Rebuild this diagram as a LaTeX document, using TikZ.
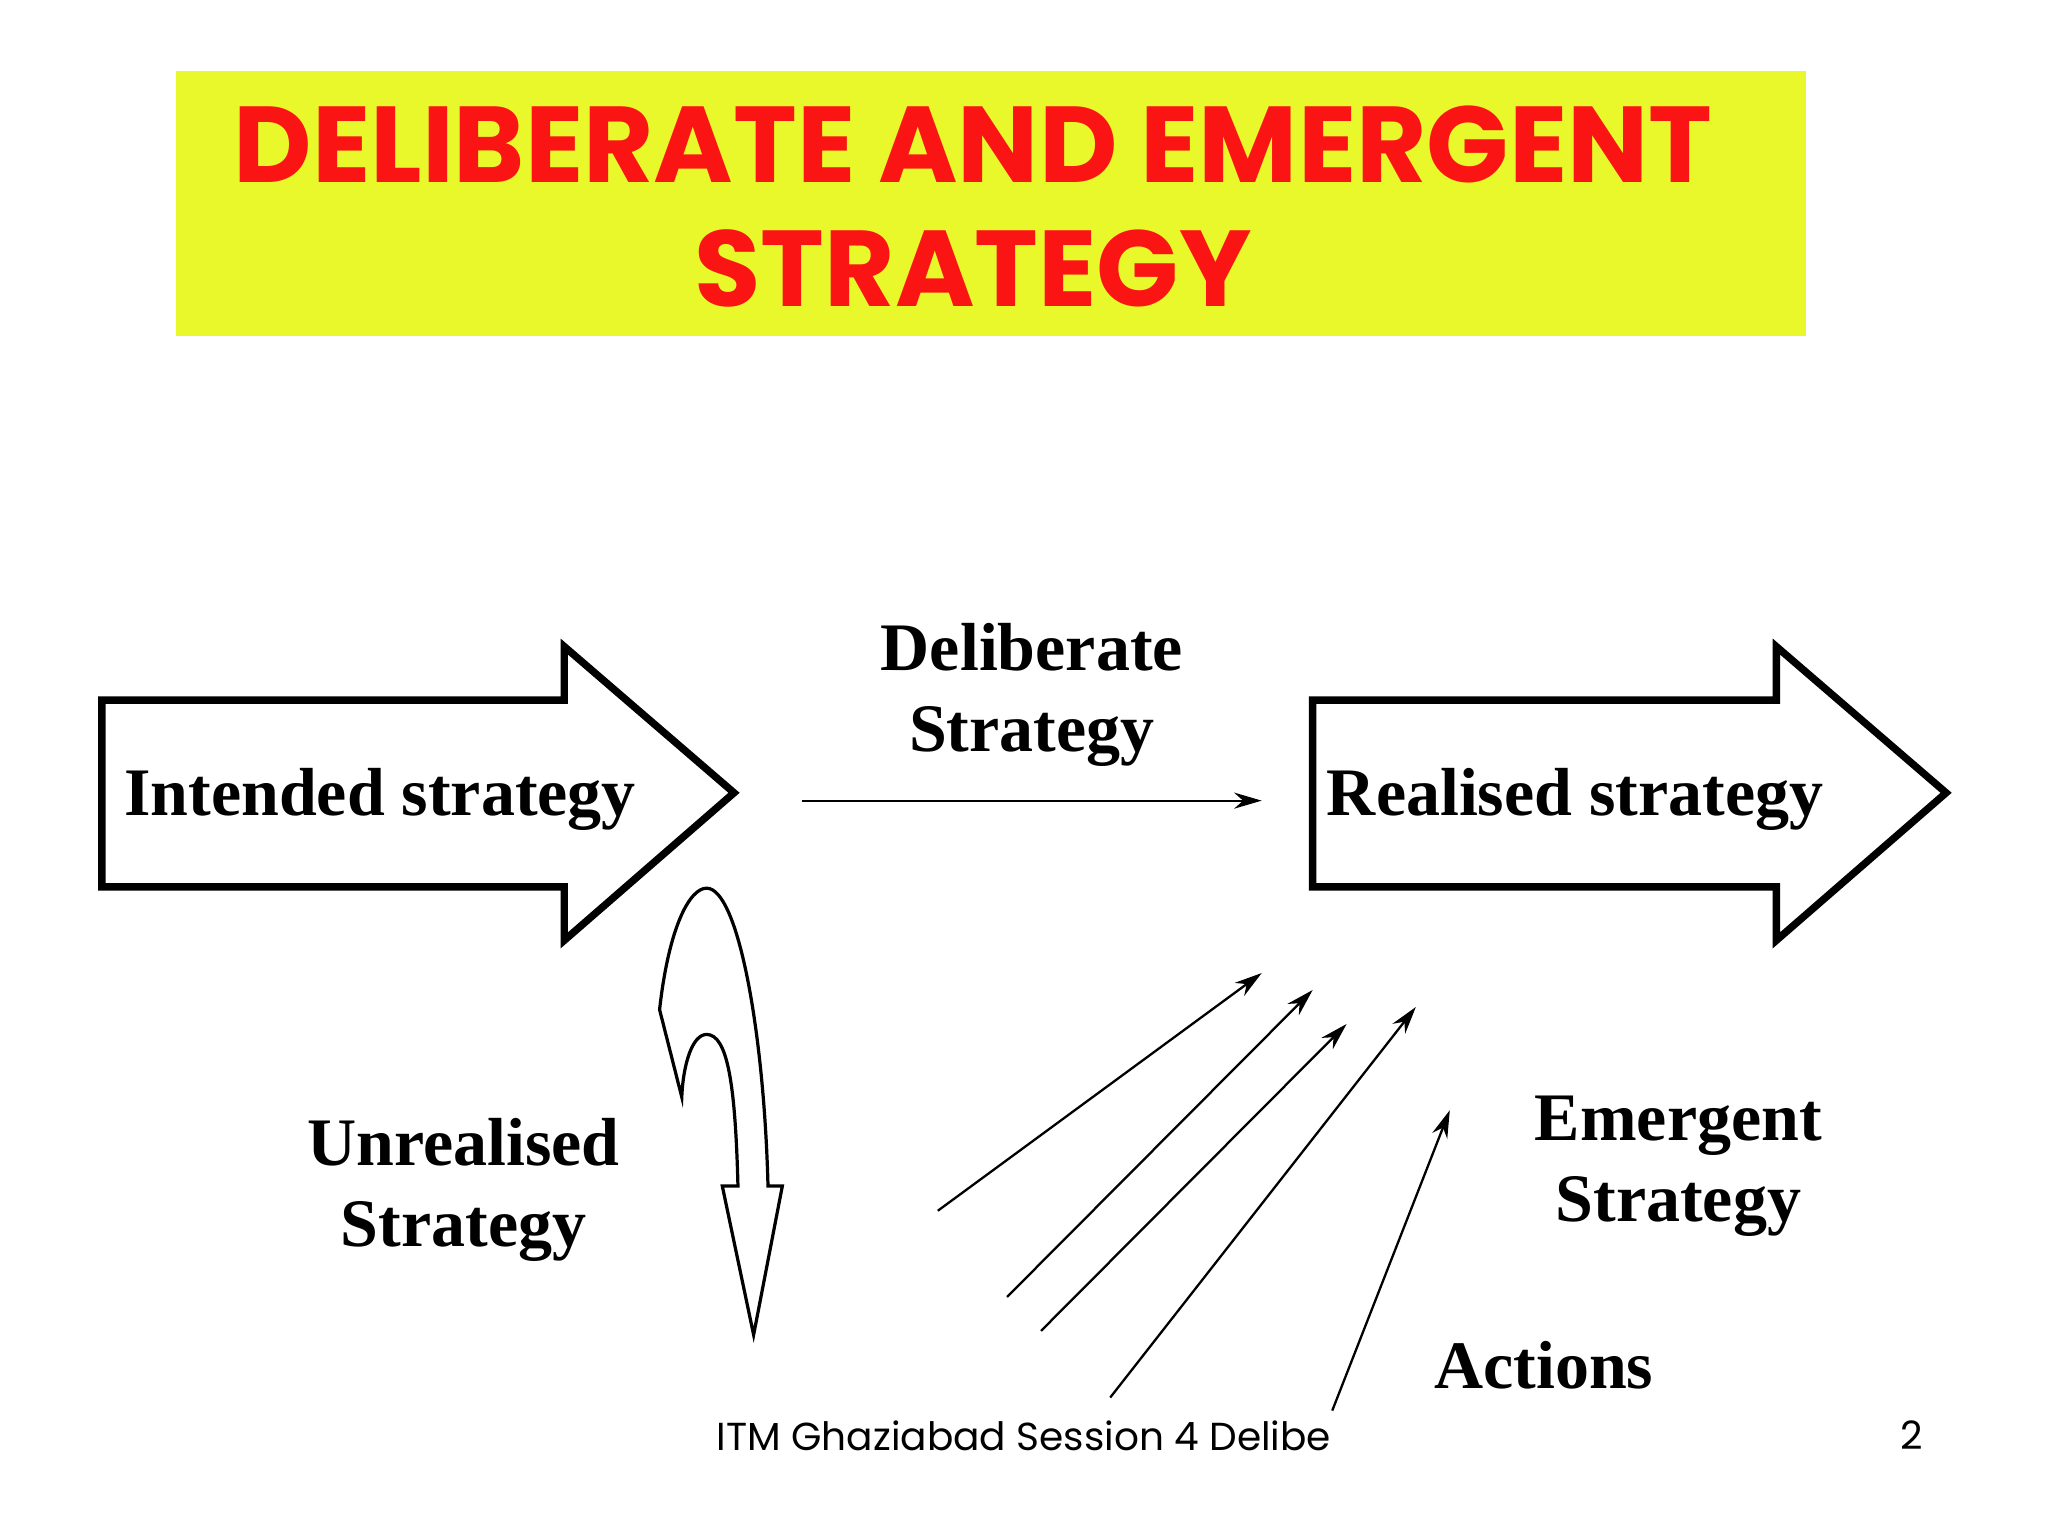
\documentclass[tikz,border=0pt]{standalone}
\usepackage{fontspec}
\setmainfont{Liberation Serif}
\newfontfamily\titlefont{Poppins}
\usetikzlibrary{arrows.meta}
\definecolor{ttlyellow}{RGB}{233,248,42}
\definecolor{ttlred}{RGB}{250,20,20}
\tikzset{
  bigarrow/.style={draw=black,line width=1.6pt,fill=white,line join=miter},
  lbl/.style={font=\bfseries\fontsize{14.8}{17.6}\selectfont,align=center},
  thin/.style={-{Stealth[length=6pt,width=3.5pt]},line width=0.5pt}
}
\begin{document}
\begin{tikzpicture}[x=0.01cm,y=-0.01cm]
\useasboundingbox (0,0) rectangle (1568,1176);
\fill[white] (0,0) rectangle (1568,1176);
\fill[ttlyellow] (135,54) rectangle (1383,257);
\node[text=ttlred,font=\titlefont\bfseries\fontsize{23.5}{27}\selectfont,align=center] (title) at (745,158) {DELIBERATE AND EMERGENT\\STRATEGY};
% big arrows
\draw[bigarrow] (78,536) -- (432,536) -- (432,495) -- (562,607) -- (432,720) -- (432,679) -- (78,679) -- cycle;
\draw[bigarrow] (1005,536) -- (1360,536) -- (1360,495) -- (1490,607) -- (1360,720) -- (1360,679) -- (1005,679) -- cycle;
\node[lbl] (int) at (291,612) {Intended strategy};
\node[lbl] (real) at (1206,612) {Realised strategy};
\coordinate (d1) at (614,613);
\coordinate (d2) at (966,613);
\draw[thin] (d1) -- (d2);
\node[lbl] (delib) at (790,532) {Deliberate\\Strategy};
\node[lbl] (unreal) at (355,911) {Unrealised\\Strategy};
\node[lbl] (emerg) at (1285,893) {Emergent\\Strategy};
\node[lbl] (act) at (1182,1045) {Actions};
% curved arrow
\draw[line width=0.7pt,fill=white] (505,773) .. controls (512,710) and (528,680) .. (541,680)
  .. controls (565,680) and (585,790) .. (588,908) -- (599,908) -- (577,1022) -- (553,908) -- (565,908)
  .. controls (563,830) and (557,792) .. (541,792) .. controls (530,792) and (523,815) .. (522,840) -- cycle;
% emergent arrows
\coordinate (a1) at (718,927); \coordinate (b1) at (966,745);
\coordinate (a2) at (771,993); \coordinate (b2) at (1005,758);
\coordinate (a3) at (797,1019); \coordinate (b3) at (1031,784);
\coordinate (a4) at (850,1070); \coordinate (b4) at (1084,771);
\coordinate (a5) at (1020,1080); \coordinate (b5) at (1110,850);
\foreach \i in {1,...,5} \draw[thin] (a\i) -- (b\i);
\node[font=\titlefont\fontsize{8.5}{10}\selectfont] (foot) at (784,1099) {ITM Ghaziabad Session 4 Delibe};
\node[font=\titlefont\fontsize{8.5}{10}\selectfont] (pg) at (1464,1099) {2};
\end{tikzpicture}
\end{document}
